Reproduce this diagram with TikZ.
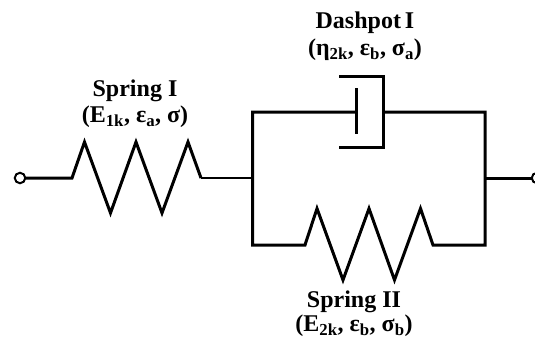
\documentclass[tikz,border=0pt]{standalone}
\usepackage{fontspec}
\setmainfont{Liberation Serif}
\tikzset{
  element/.style={line width=3pt,line join=miter,line cap=butt},
  thinlead/.style={line width=2pt},
  terminal/.style={circle,draw,line width=2pt,fill=white,inner sep=0pt,minimum size=10.5pt},
  caption/.style={font=\bfseries\fontsize{24}{24}\selectfont,inner sep=0pt,anchor=center}
}
\begin{document}
\begin{tikzpicture}[x=1pt,y=-1pt]
\clip (0,0) rectangle (535,338);

% terminals and junctions
\coordinate (L) at (252.5,178);
\coordinate (R) at (485,178);
\coordinate (LT) at (252.5,112);
\coordinate (LB) at (252.5,245);
\coordinate (RT) at (485,112);
\coordinate (RB) at (485,245);
\coordinate (Plate) at (356,112);
\coordinate (Cup) at (383,112);

% spring I
\draw[element] (20,178) -- (72,178) -- (84.5,142) -- (110.5,213) -- (136,142) -- (162,213) -- (188,142) -- (201,178);
\draw[thinlead] (201,178) -- (L);
% parallel frame
\draw[element] (Plate) -- (LT) -- (LB) -- (305,245) -- (317,208.5) -- (343,280) -- (369,208.5) -- (394.5,280) -- (420.5,208.5) -- (433,245) -- (RB) -- (RT) -- (Cup);
\draw[element] (R) -- (535,178);
% dashpot
\draw[element] (356,88) -- (356,134);
\draw[element] (339,76) -- (383,76) -- (383,147) -- (339,147);

\node[terminal] (In) at (20,178) {};
\node[terminal] (Out) at (537,178) {};

\node[caption] (SpringI) at (135,91) {Spring I};
\node[caption] (SpringIvars) at (135,117) {(E\textsubscript{1k}, ε\textsubscript{a}, σ)};
\node[caption] (Dashpot) at (365,23) {Dashpot\kern-2pt\ I};
\node[caption] (Dashpotvars) at (365,50) {(η\textsubscript{2k}, ε\textsubscript{b}, σ\textsubscript{a})};
\node[caption] (SpringII) at (354,302) {Spring II};
\node[caption] (SpringIIvars) at (354,325.5) {(E\textsubscript{2k}, ε\textsubscript{b}, σ\textsubscript{b})};
\end{tikzpicture}
\end{document}
